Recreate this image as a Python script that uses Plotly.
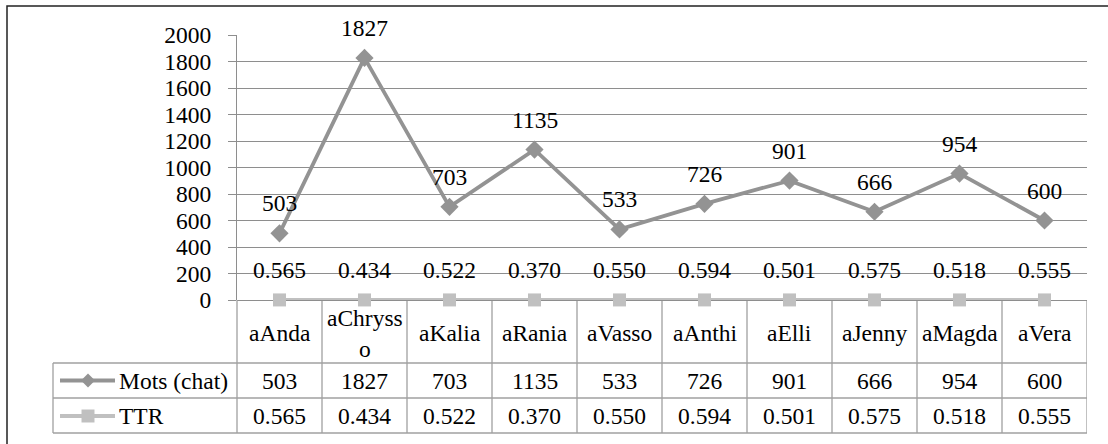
import plotly.graph_objects as go

categories = ["aAnda", "aChrysso", "aKalia", "aRania", "aVasso",
              "aAnthi", "aElli", "aJenny", "aMagda", "aVera"]
header_labels = ["aAnda", "aChryss<br>o", "aKalia", "aRania", "aVasso",
                 "aAnthi", "aElli", "aJenny", "aMagda", "aVera"]
mots = [503, 1827, 703, 1135, 533, 726, 901, 666, 954, 600]
ttr = [0.565, 0.434, 0.522, 0.370, 0.550, 0.594, 0.501, 0.575, 0.518, 0.555]
series_names = ["Mots (chat)", "TTR"]
y_ticks = [0, 200, 400, 600, 800, 1000, 1200, 1400, 1600, 1800, 2000]

W, H = 1108, 444
L, R, T, B = 237, 21, 35, 144
PW, PH = W - L - R, H - T - B
FONT = "Liberation Serif"
FS = 23.5
MOTS_C = "#939393"
TTR_C = "#c0c0c0"
GRID_C = "#8e8e8e"
TAB_C = "#a0a0a0"


def px(x):
    return (x - L) / PW


def py(y):
    return (H - B - y) / PH


n = len(categories)
xs = list(range(n))

fig = go.Figure()
fig.add_trace(go.Scatter(x=xs, y=mots, mode="lines+markers", name=series_names[0],
                         line=dict(color=MOTS_C, width=3.8),
                         marker=dict(symbol="diamond", size=14, color=MOTS_C),
                         cliponaxis=False))
fig.add_trace(go.Scatter(x=xs, y=ttr, mode="lines+markers", name=series_names[1],
                         line=dict(color=TTR_C, width=3.8),
                         marker=dict(symbol="square", size=13, color=TTR_C),
                         cliponaxis=False))

tf = dict(family=FONT, size=FS, color="black")
ann = []
# data labels
for i in range(n):
    ann.append(dict(x=i, y=mots[i], xref="x", yref="y", text=str(mots[i]),
                    xanchor="center", yanchor="middle",
                    showarrow=False, yshift=30, font=tf))
    ann.append(dict(x=i, y=ttr[i], xref="x", yref="y", text=f"{ttr[i]:.3f}",
                    xanchor="center", yanchor="middle",
                    showarrow=False, yshift=30, font=tf))
# table text
for i in range(n):
    ann.append(dict(x=i, y=py(333), xref="x", yref="paper", text=header_labels[i],
                    xanchor="center", yanchor="middle", showarrow=False, font=tf))
    ann.append(dict(x=i, y=py(380.5), xref="x", yref="paper", text=str(mots[i]),
                    xanchor="center", yanchor="middle", showarrow=False, font=tf))
    ann.append(dict(x=i, y=py(416), xref="x", yref="paper", text=f"{ttr[i]:.3f}",
                    xanchor="center", yanchor="middle", showarrow=False, font=tf))
ann.append(dict(x=px(117), y=py(380.5), xref="paper", yref="paper", text=series_names[0],
                xanchor="left", yanchor="middle", showarrow=False, font=tf))
ann.append(dict(x=px(117), y=py(416), xref="paper", yref="paper", text=series_names[1],
                xanchor="left", yanchor="middle", showarrow=False, font=tf))

shapes = []
tl = dict(color=TAB_C, width=1.3)
# horizontal table lines
for yy in [363, 398, 433]:
    shapes.append(dict(type="line", xref="paper", yref="paper", x0=px(53), x1=1,
                       y0=py(yy), y1=py(yy), line=tl))
# vertical table lines
shapes.append(dict(type="line", xref="paper", yref="paper", x0=px(53), x1=px(53),
                   y0=py(363), y1=py(433), line=tl))
shapes.append(dict(type="line", xref="paper", yref="paper", x0=0, x1=0,
                   y0=py(300), y1=py(433), line=tl))
for i in range(n):
    shapes.append(dict(type="line", xref="x", yref="paper", x0=i + 0.5, x1=i + 0.5,
                       y0=py(301), y1=py(433), line=tl))
# legend keys
for yy, col in [(380.5, MOTS_C), (416, TTR_C)]:
    shapes.append(dict(type="line", xref="paper", yref="paper", x0=px(60), x1=px(115),
                       y0=py(yy), y1=py(yy), line=dict(color=col, width=3.8)))
cx, cy = 88, 380.5
shapes.append(dict(type="path", xref="paper", yref="paper",
                   path=f"M {px(cx-7)} {py(cy)} L {px(cx)} {py(cy-7)} L {px(cx+7)} {py(cy)} L {px(cx)} {py(cy+7)} Z",
                   fillcolor=MOTS_C, line=dict(width=0)))
cx, cy = 88, 416
shapes.append(dict(type="rect", xref="paper", yref="paper",
                   x0=px(cx-6.5), x1=px(cx+6.5), y0=py(cy-6.5), y1=py(cy+6.5),
                   fillcolor=TTR_C, line=dict(width=0)))
# outer border
shapes.append(dict(type="rect", xref="paper", yref="paper", x0=px(7), x1=px(1120),
                   y0=py(6), y1=py(460), line=dict(color="#222222", width=1.5)))

fig.update_layout(
    width=W, height=H,
    margin=dict(l=L, r=R, t=T, b=B),
    paper_bgcolor="white", plot_bgcolor="white",
    showlegend=False,
    annotations=ann, shapes=shapes,
    font=tf,
    xaxis=dict(range=[-0.5, n - 0.5], showgrid=False, showticklabels=False,
               zeroline=False, showline=False, ticks="", fixedrange=True),
    yaxis=dict(range=[0, 2000], tickvals=y_ticks, showgrid=True, gridcolor=GRID_C,
               gridwidth=1, zeroline=True, zerolinecolor=GRID_C, zerolinewidth=1,
               showline=True, linecolor=GRID_C, linewidth=1,
               ticks="outside", ticklen=8, tickcolor=GRID_C,
               ticklabelstandoff=12, fixedrange=True,
               tickfont=tf),
)

fig.write_html("out.html", config={"displayModeBar": False},
               post_script="document.body.style.margin='0';document.body.style.padding='0';")
